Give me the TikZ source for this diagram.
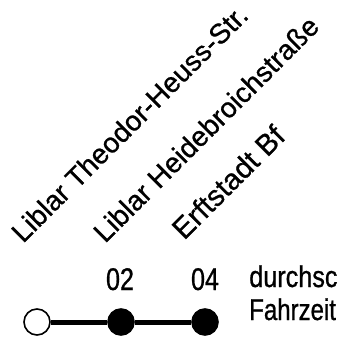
\documentclass[tikz,border=0pt]{standalone}
\usepackage{fontspec}
\setmainfont{Liberation Sans}[FakeBold=0.8]
\newfontfamily\narrowfont{Liberation Sans}[FakeStretch=0.8,FakeBold=0.8]
\newfontfamily\legendfont{Liberation Sans}[FakeStretch=0.8,FakeBold=0.8]
\newfontfamily\legendwidefont{Liberation Sans}[FakeStretch=0.84,FakeBold=0.8]
\usepackage{tikz}

\begin{document}
\begin{tikzpicture}[x=0.75pt,y=0.75pt,yscale=-1,xscale=1,
  halt/.style={circle,draw,line width=1.2pt,minimum size=19.5pt,inner sep=0pt},
  haltname/.style={rotate=45,anchor=base west,inner sep=0pt,font=\fontsize{21}{21}\selectfont},
  zeit/.style={anchor=base,inner sep=0pt,font=\narrowfont\fontsize{23.5}{23.5}\selectfont},
  legende/.style={anchor=base west,inner sep=0pt}]
\useasboundingbox (0,0) rectangle (338,341);
\clip (0,0) rectangle (338,341);

%Shape: Circle
\node [halt,fill=white] (s0) at (37,322) {};
%Shape: Circle
\node [halt,fill=black] (s1) at (121,322) {};
%Shape: Circle
\node [halt,fill=black] (s2) at (205,322) {};
%Straight Lines
\draw [line width=3.75pt] (s0.east) -- (s1.west) (s1.east) -- (s2.west);

% Text Node
\node [haltname] (n0) at (23,244) {Liblar Theodor-Heuss-Str.};
% Text Node
\node [haltname] (n1) at (105,244) {Liblar Heidebroichstraße};
% Text Node
\node [haltname,font=\fontsize{22}{22}\selectfont] (n2) at (184,241) {Erftstadt Bf};

% Text Node
\node [zeit] (z1) at (120,290) {02};
% Text Node
\node [zeit] (z2) at (205,290) {04};

% Text Node
\node [legende,font=\legendwidefont\fontsize{22.5}{22.5}\selectfont] (leg1) at (249,287) {durchschnittliche};
% Text Node
\node [legende,font=\legendfont\fontsize{22.5}{22.5}\selectfont] (leg2) at (249,320) {Fahrzeit};

\end{tikzpicture}
\end{document}
